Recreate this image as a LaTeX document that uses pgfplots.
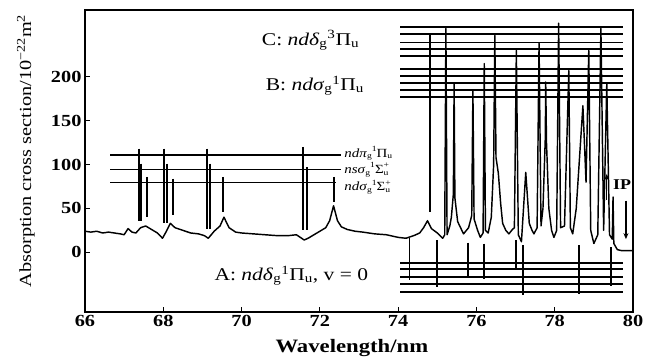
\documentclass[border=0pt]{standalone}
\usepackage{fontspec}
\setmainfont{Liberation Serif}[FakeStretch=1.2]
\usepackage{pgfplots}
\pgfplotsset{compat=1.18}
\usetikzlibrary{arrows.meta}
\newcommand\fs[1]{\fontsize{#1}{#1}\selectfont}
\newcommand\lev[3]{\textit{#1}\textsubscript{g}\textsuperscript{#2}#3}
\newcommand\sml[1]{\raisebox{-0.15em}{\fontsize{8}{8}\selectfont #1}}
\newcommand\supr[1]{\raisebox{0.45em}{\fontsize{8}{8}\selectfont #1}}
\begin{document}
\begin{tikzpicture}
\path[use as bounding box] (-85bp,-46bp) rectangle (566bp,312bp);
\begin{axis}[
  at={(0,0)}, anchor=south west,
  scale only axis, width=548bp, height=302bp,
  xmin=66, xmax=80, ymin=-68, ymax=276,
  xtick={66,68,...,80}, ytick={0,50,100,150,200},
  tick align=inside, xtick pos=bottom, ytick pos=left,
  major tick length=5bp,
  axis line style={line width=1.3pt},
  every tick/.style={line width=1.1pt, black},
  /pgf/number format/assume math mode=true,
  tick label style={font=\fs{17}\bfseries},
  xlabel={Wavelength/nm},
  ylabel={Absorption cross section/10\textsuperscript{−22}m\textsuperscript{2}},
  xlabel style={font=\fs{19}\bfseries, at={(axis description cs:0.487,-0.1325)}, anchor=base},
  ylabel style={font=\fs{17}, at={(axis description cs:-0.1077,0.533)}, anchor=center},
  unbounded coords=jump,
  clip=false,
]
% spectrum
\addplot[black, line width=1.45pt, line join=round] coordinates {
(66.00,24) (66.15,23) (66.30,24) (66.45,22) (66.60,23) (66.75,22) (66.90,21) (67.00,20)
(67.10,27) (67.20,23) (67.30,22) (67.42,28) (67.55,30) (67.70,26) (67.85,22) (67.98,16)
(68.08,24) (68.18,33) (68.30,28) (68.50,25) (68.70,22) (68.90,21) (69.05,19) (69.15,16)
(69.30,24) (69.45,30) (69.55,40) (69.68,28) (69.85,23) (70.00,22) (70.30,21) (70.60,20)
(70.90,19) (71.20,19) (71.40,20) (71.50,17) (71.60,14) (71.70,16) (71.85,20) (72.00,24)
(72.15,28) (72.25,36) (72.35,53) (72.45,36) (72.55,29) (72.70,26) (72.90,24) (73.10,23)
(73.40,21) (73.70,20) (74.00,17) (74.20,16) (74.40,19) (74.55,22) (74.65,28) (74.75,36)
(74.85,27) (75.00,22) (75.14,16) (75.19,20) (75.22,255) (75.25,20) (75.32,30) (75.36,40)
(75.41,66) (75.43,192) (75.45,62) (75.52,35) (75.67,21) (75.80,28) (75.88,42) (75.91,184)
(75.94,38) (76.03,25) (76.10,17) (76.17,22) (76.20,215) (76.23,25) (76.30,22) (76.38,40)
(76.44,100) (76.47,247) (76.50,108) (76.56,90) (76.62,55) (76.67,33) (76.75,25) (76.83,21)
(76.92,26) (76.97,28) (77.02,230) (77.07,20) (77.15,12) (77.26,91) (77.35,33) (77.42,25)
(77.47,21) (77.55,28) (77.60,238) (77.65,30) (77.70,50) (77.76,131) (77.77,194) (77.79,125)
(77.85,50) (77.92,25) (77.98,17) (78.05,25) (78.10,261) (78.15,28) (78.25,30) (78.36,207)
(78.40,28) (78.46,21) (78.55,50) (78.72,167) (78.80,80) (78.87,230) (78.92,25) (79.00,10)
(79.10,20) (79.18,255) (79.25,25) (79.33,192) (79.40,20) (79.47,15) (79.49,63) (79.51,10)
(79.60,3) (79.70,2) (80.00,2)
};
% left ladder lines
\addplot[black, line width=1.5pt] coordinates {
(66.64,111) (72.53,111) (72.53,nan)
(66.64,94.5) (72.53,94.5) (72.53,nan)
(66.64,79.5) (72.40,79.5)
};
% left markers
\addplot[black, line width=2pt] coordinates {
(67.38,118) (67.38,36) (67.38,nan)
(67.43,101) (67.43,36) (67.43,nan)
(67.58,86) (67.58,40) (67.58,nan)
(68.02,118) (68.02,33) (68.02,nan)
(68.09,101) (68.09,33) (68.09,nan)
(68.25,84) (68.25,42) (68.25,nan)
(69.12,118) (69.12,27) (69.12,nan)
(69.20,101) (69.20,27) (69.20,nan)
(69.53,86) (69.53,46) (69.53,nan)
(71.58,120) (71.58,25) (71.58,nan)
(71.68,97) (71.68,25) (71.68,nan)
(72.35,86) (72.35,57)
};
% upper ladder lines (C and B)
\addplot[black, line width=1.8pt] coordinates {
(74.06,256.3) (79.74,256.3) (79.74,nan)
(74.06,248.3) (79.74,248.3) (79.74,nan)
(74.06,239) (79.74,239) (79.74,nan)
(74.06,231.2) (79.74,231.2) (79.74,nan)
(74.06,223.2) (79.74,223.2) (79.74,nan)
(74.06,208.4) (79.74,208.4) (79.74,nan)
(74.06,200.5) (79.74,200.5) (79.74,nan)
(74.06,192.5) (79.74,192.5) (79.74,nan)
(74.06,184.5) (79.74,184.5) (79.74,nan)
(74.06,176.5) (79.74,176.5)
};
% upper marker ending above a small peak
\addplot[black, line width=2pt] coordinates {(74.81,247) (74.81,46)};
% lower ladder lines (A)
\addplot[black, line width=1.8pt] coordinates {
(74.06,-12.5) (79.74,-12.5) (79.74,nan)
(74.06,-19.4) (79.74,-19.4) (79.74,nan)
(74.06,-28.5) (79.74,-28.5) (79.74,nan)
(74.06,-36.4) (79.74,-36.4) (79.74,nan)
(74.06,-45.6) (79.74,-45.6)
};
% lower markers
\addplot[black, line width=2pt] coordinates {
(74.29,16) (74.29,-31) (74.29,nan)
(75.00,14) (75.00,-40) (75.00,nan)
(75.78,11) (75.78,-28) (75.78,nan)
(76.19,10) (76.19,-30) (76.19,nan)
(77.00,14) (77.00,-18) (77.00,nan)
(77.20,8) (77.20,-49) (77.20,nan)
(78.62,8) (78.62,-47) (78.62,nan)
(79.44,6) (79.44,-38)
};
% labels
\node[anchor=base west, font=\fs{18}] at (axis cs:70.43,236) {C: \lev{ndδ}{3}{Π}\textsubscript{u}};
\node[anchor=base west, font=\fs{18}] at (axis cs:70.53,184.5) {B: \lev{ndσ}{1}{Π}\textsubscript{u}};
\node[anchor=base west, font=\fs{18}] at (axis cs:69.22,-32) {A: \lev{ndδ}{1}{Π}\textsubscript{u}, v = 0};
\node[anchor=base west, font=\fs{12.5}, inner sep=0pt] at (axis cs:72.62,108.5) {\textit{ndπ}\sml{g}\supr{1}Π\sml{u}};
\node[anchor=base west, font=\fs{12.5}, inner sep=0pt] at (axis cs:72.62,90) {\textit{nsσ}\sml{g}\supr{1}Σ\rlap{\supr{+}}\sml{u}};
\node[anchor=base west, font=\fs{12.5}, inner sep=0pt] at (axis cs:72.62,70) {\textit{ndσ}\sml{g}\supr{1}Σ\rlap{\supr{+}}\sml{u}};
\node[anchor=base west, font=\fs{15}\bfseries, inner sep=0pt] at (axis cs:79.49,72) {IP};
\draw[line width=1.2pt, -{Stealth[length=6pt,width=5pt]}] (axis cs:79.82,59) -- (axis cs:79.82,15);
\draw[line width=1.2pt, -{Latex[length=6pt,width=5pt]}] (axis cs:79.33,60) -- (axis cs:79.33,90);
\end{axis}
\end{tikzpicture}
\end{document}
